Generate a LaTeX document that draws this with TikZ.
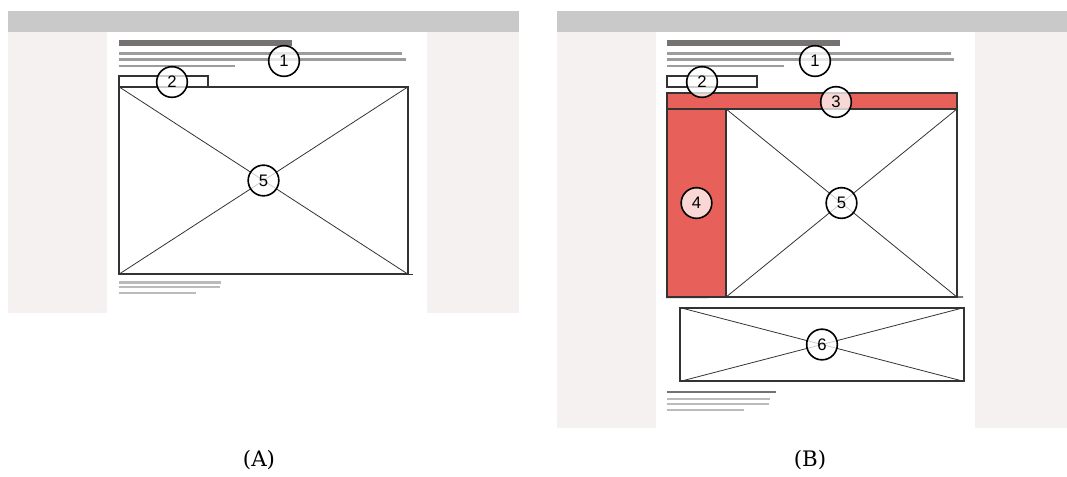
\documentclass[tikz,border=0pt]{standalone}
\usepackage{fontspec}
\newfontfamily\numfont{Liberation Sans}
\newfontfamily\capfont{DejaVu Serif}
\definecolor{barGray}{HTML}{C9C9C9}
\definecolor{sideGray}{HTML}{F4F1F0}
\definecolor{titleGray}{HTML}{767272}
\definecolor{lineGray}{HTML}{9C9C9C}
\definecolor{capGray}{HTML}{BBBBBB}
\definecolor{markRed}{HTML}{E8605A}
\definecolor{edgeGray}{HTML}{333333}
\usetikzlibrary{fit}

\begin{document}
\begin{tikzpicture}[x=0.75pt, y=-0.75pt,
  num/.style={circle, draw=black, line width=1.2pt, fill=white, fill opacity=0.75,
              text opacity=1, minimum size=23pt, inner sep=0pt,
              font=\numfont\fontsize{12.5}{12.5}\selectfont},
  imgbox/.style={draw=edgeGray, line width=0.8pt, inner sep=0pt},
  redbox/.style={imgbox, fill=markRed},
  cross/.style={edgeGray, line width=0.6pt},
  headline/.style={titleGray, line width=4.5pt},
  txtline/.style={lineGray, line width=2pt},
  capline/.style={capGray, line width=1.8pt},
  panel/.style={font=\capfont\fontsize{16}{18}\selectfont},
]
  \useasboundingbox (0,0) rectangle (1067,476);

  % Panel A: page frame
  \fill[barGray] (8,11) rectangle (519,32);
  \fill[sideGray] (8,32) rectangle (107,313);
  \fill[sideGray] (427,32) rectangle (519,313);

  % Panel A: heading and text
  \draw[headline] (119,43) -- (292,43);
  \draw[txtline] (119,53.5) -- (402,53.5);
  \draw[txtline] (119,59.5) -- (406,59.5);
  \draw[txtline] (119,66) -- (235,66);

  % Panel A: small box and image
  \node[imgbox, fit={(119,76) (208,87)}] (a2) {};
  \node[imgbox, fit={(119,87) (408,274)}] (a5) {};
  \draw[cross] (a5.north west) -- (a5.south east);
  \draw[cross] (a5.south west) -- (a5.north east);
  \draw[edgeGray, line width=0.8pt] (a5.south west) -- ++(295,0);

  % Panel A: caption lines
  \draw[capline] (119,282.5) -- (221,282.5);
  \draw[capline] (119,287) -- (220,287);
  \draw[capline] (119,293) -- (196,293);

  % Panel A: markers
  \node[num] (na1) at (284,61) {1};
  \node[num] (na2) at (172,82) {2};
  \node[num] (na5) at (a5.center) {5};

  % Panel B: page frame
  \fill[barGray] (557,11) rectangle (1067,32);
  \fill[sideGray] (557,32) rectangle (656,428);
  \fill[sideGray] (975,32) rectangle (1067,428);

  % Panel B: heading and text
  \draw[headline] (667,43) -- (840,43);
  \draw[txtline] (667,53.5) -- (951,53.5);
  \draw[txtline] (667,59.5) -- (954,59.5);
  \draw[txtline] (667,66) -- (784,66);

  % Panel B: small box, red bars and images
  \node[imgbox, fit={(667,76) (757,87)}] (b2) {};
  \node[redbox, fit={(667,93) (957,109)}] (b3) {};
  \node[redbox, fit={(667,109) (726,297)}] (b4) {};
  \node[imgbox, fit={(726,109) (957,297)}] (b5) {};
  \draw[cross] (b5.north west) -- (b5.south east);
  \draw[cross] (b5.south west) -- (b5.north east);
  \draw[edgeGray, line width=0.8pt] (b4.south west) -- (963,297);
  \node[imgbox, fit={(680,308) (964,381)}] (b6) {};
  \draw[cross] (b6.north west) -- (b6.south east);
  \draw[cross] (b6.south west) -- (b6.north east);

  % Panel B: caption lines
  \draw[titleGray, line width=1.5pt] (667,392) -- (776,392);
  \draw[capline] (667,399) -- (770,399);
  \draw[capline] (667,404) -- (769,404);
  \draw[capline] (667,410) -- (744,410);

  % Panel B: markers
  \node[num] (nb1) at (815,61) {1};
  \node[num] (nb2) at (702,82) {2};
  \node[num] (nb3) at (836,102) {3};
  \node[num] (nb4) at (b4.center) {4};
  \node[num] (nb5) at (b5.center) {5};
  \node[num] (nb6) at (b6.center) {6};

  % Panel labels
  \node[panel] (labA) at (259,460) {(A)};
  \node[panel] (labB) at (810,460) {(B)};
\end{tikzpicture}
\end{document}
